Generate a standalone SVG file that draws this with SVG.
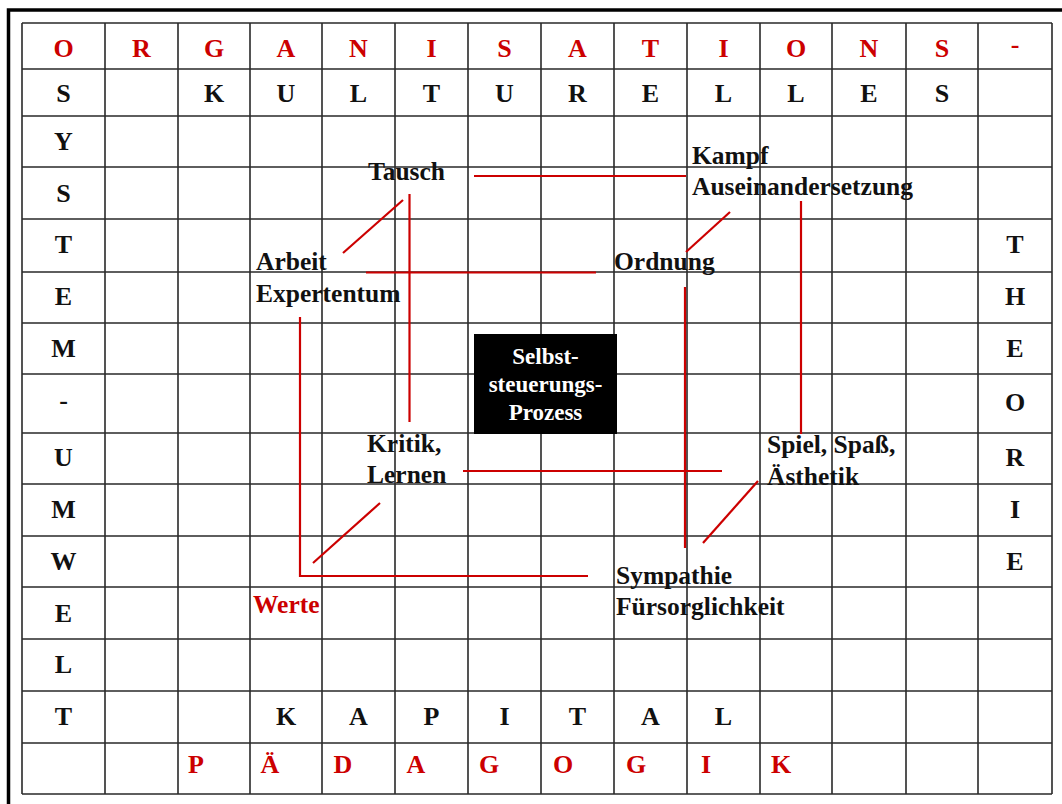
<svg xmlns="http://www.w3.org/2000/svg" width="1062" height="804" viewBox="0 0 1062 804">
<style>
.g{fill:none;stroke:#2a2a2a;stroke-width:1.6}
.fr{fill:none;stroke:#000;stroke-width:3.5}
.c{fill:none;stroke:#cc0000;stroke-width:2.2}
.L{font-family:"Liberation Serif","Times New Roman",serif;font-weight:bold;font-size:26px;text-anchor:middle;fill:#111}
.t{font-family:"Liberation Serif","Times New Roman",serif;font-weight:bold;font-size:25.5px;fill:#111}
.b{font-family:"Liberation Serif","Times New Roman",serif;font-weight:bold;font-size:23px;fill:#fff;text-anchor:middle}
.r{fill:#cc0000}
</style>
<rect x="0" y="0" width="1062" height="804" fill="#fff"/>
<path class="fr" d="M8.5,804 V10 H1062"/>
<g id="grid">
<path class="g" d="M22,23V794M105,23V794M178,23V794M250,23V794M322,23V794M395,23V794M468,23V794M541,23V794M614,23V794M687,23V794M760,23V794M832,23V794M906,23V794M978,23V794M1052,23V794
M22,23H1052M22,69H1052M22,116H1052M22,167H1052M22,219H1052M22,272H1052M22,323H1052M22,374H1052M22,433H1052M22,484H1052M22,536H1052M22,587H1052M22,639H1052M22,691H1052M22,743H1052M22,794H1052"/>
</g>
<g id="letters">
<g class="L r">
<text x="63.5" y="57">O</text><text x="141.5" y="57">R</text><text x="214" y="57">G</text><text x="286" y="57">A</text><text x="358.5" y="57">N</text><text x="431.5" y="57">I</text><text x="504.5" y="57">S</text><text x="577.5" y="57">A</text><text x="650.5" y="57">T</text><text x="723.5" y="57">I</text><text x="796" y="57">O</text><text x="869" y="57">N</text><text x="942" y="57">S</text><text x="1015" y="53">-</text>
<text x="196" y="773">P</text><text x="270" y="773">Ä</text><text x="343" y="773">D</text><text x="416" y="773">A</text><text x="489" y="773">G</text><text x="563" y="773">O</text><text x="636" y="773">G</text><text x="706" y="773">I</text><text x="781" y="773">K</text>
</g>
<g class="L">
<text x="63.5" y="102">S</text><text x="214" y="102">K</text><text x="286" y="102">U</text><text x="358.5" y="102">L</text><text x="431.5" y="102">T</text><text x="504.5" y="102">U</text><text x="577.5" y="102">R</text><text x="650.5" y="102">E</text><text x="723.5" y="102">L</text><text x="796" y="102">L</text><text x="869" y="102">E</text><text x="942" y="102">S</text>
<text x="63.5" y="150">Y</text><text x="63.5" y="202">S</text><text x="63.5" y="253">T</text><text x="63.5" y="305">E</text><text x="63.5" y="357">M</text><text x="63.5" y="409">-</text><text x="63.5" y="466">U</text><text x="63.5" y="518">M</text><text x="63.5" y="570">W</text><text x="63.5" y="622">E</text><text x="63.5" y="673">L</text><text x="63.5" y="725">T</text>
<text x="1015" y="253">T</text><text x="1015" y="305">H</text><text x="1015" y="357">E</text><text x="1015" y="411">O</text><text x="1015" y="466">R</text><text x="1015" y="518">I</text><text x="1015" y="570">E</text>
<text x="286" y="725">K</text><text x="358.5" y="725">A</text><text x="431.5" y="725">P</text><text x="504.5" y="725">I</text><text x="577.5" y="725">T</text><text x="650.5" y="725">A</text><text x="723.5" y="725">L</text>
</g>
</g>
<g id="connectors">
<path class="c" d="M474,176 H686"/>
<path class="c" d="M403,200 L343,253"/>
<path class="c" d="M409.5,194 V422"/>
<path class="c" d="M366,272.5 H596"/>
<path class="c" d="M730,212 L686,252"/>
<path class="c" d="M801,201 V434"/>
<path class="c" d="M685,287 V548"/>
<path class="c" d="M463,471 H722"/>
<path class="c" d="M758,481 L703,543"/>
<path class="c" d="M380,503 L313,563"/>
<path class="c" d="M300,317 V576 H588"/>
</g>
<g id="tausch"><text class="t" x="368" y="180">Tausch</text></g>
<g id="kampf"><text class="t" x="692" y="164">Kampf</text><text class="t" x="692" y="195">Auseinandersetzung</text></g>
<g id="arbeit"><text class="t" x="256" y="270">Arbeit</text><text class="t" x="256" y="302">Expertentum</text></g>
<g id="ordnung"><text class="t" x="614" y="270">Ordnung</text></g>
<g id="center"><rect x="474" y="334" width="143" height="100" fill="#000"/><text class="b" x="545.5" y="364">Selbst-</text><text class="b" x="545.5" y="392">steuerungs-</text><text class="b" x="545.5" y="420">Prozess</text></g>
<g id="kritik"><text class="t" x="367" y="452">Kritik,</text><text class="t" x="367" y="483">Lernen</text></g>
<g id="spiel"><text class="t" x="767" y="453">Spiel, Spaß,</text><text class="t" x="767" y="485">Ästhetik</text></g>
<g id="sympathie"><text class="t" x="616" y="584">Sympathie</text><text class="t" x="616" y="615">Fürsorglichkeit</text></g>
<g id="werte"><text class="t r" x="253" y="613">Werte</text></g>
</svg>
